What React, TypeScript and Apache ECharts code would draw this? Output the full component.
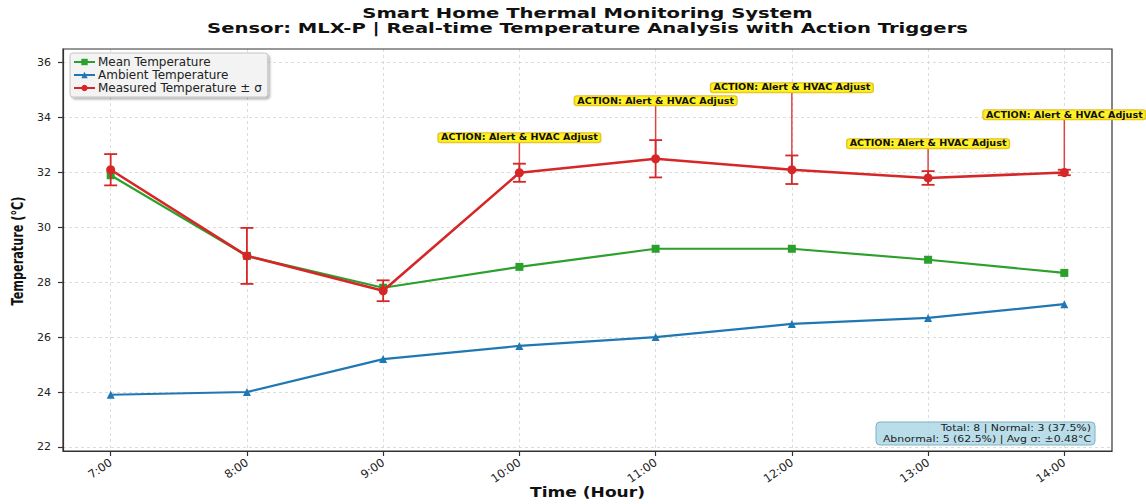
import React, { useEffect, useRef } from "react";
import * as echarts from "echarts";

const hours = ["7:00", "8:00", "9:00", "10:00", "11:00", "12:00", "13:00", "14:00"];
const meanTemp = [31.9, 28.96, 27.8, 28.56, 29.22, 29.22, 28.82, 28.34];
const ambientTemp = [23.9, 24.0, 25.2, 25.68, 26.0, 26.48, 26.7, 27.2];
const measuredTemp = [32.1, 28.96, 27.69, 31.99, 32.5, 32.1, 31.8, 32.0];
const sigma = [0.57, 1.02, 0.38, 0.33, 0.68, 0.52, 0.25, 0.1];
const actionFlags = [false, false, false, true, true, true, true, true];
const actionLabelTemp = [0, 0, 0, 33.27, 34.61, 35.09, 33.05, 34.1];
const actionText = "ACTION: Alert & HVAC Adjust";
const yTicks = [22, 24, 26, 28, 30, 32, 34, 36];
const titleLines = [
  "Smart Home Thermal Monitoring System",
  "Sensor: MLX-P | Real-time Temperature Analysis with Action Triggers",
];
const statsLines = ["Total: 8 | Normal: 3 (37.5%)", "Abnormal: 5 (62.5%) | Avg σ: ±0.48°C"];

const RED = "#d62728";
const GREEN = "#2ca02c";
const BLUE = "#1f77b4";
const FONT = "DejaVu Sans";

export default function App() {
  const ref = useRef<HTMLDivElement>(null);
  useEffect(() => {
    if (!ref.current) return;
    const chart = echarts.init(ref.current, null, { renderer: "svg" });
    const idx = hours.map((_, i) => i);
    const option: any = {
      animation: false,
      backgroundColor: "#ffffff",
      legend: {
        data: ["Mean Temperature", "Ambient Temperature", "Measured Temperature ± σ"],
        orient: "vertical",
        left: 70,
        top: 53,
        padding: [3, 6, 3, 3],
        itemWidth: 21,
        itemHeight: 8,
        itemGap: 1,
        backgroundColor: "rgba(244,244,244,0.95)",
        borderColor: "#c4c4c4",
        borderWidth: 1,
        borderRadius: 3,
        shadowBlur: 2,
        shadowOffsetX: 2,
        shadowOffsetY: 2,
        shadowColor: "rgba(0,0,0,0.3)",
        textStyle: { fontFamily: FONT, fontSize: 12, color: "#222", lineHeight: 12, padding: [0, 0, 0, -2] },
      },
      grid: { left: 63, right: 34, top: 49, bottom: 53, show: false },
      xAxis: {
        type: "value",
        min: -0.35,
        max: 7.35,
        axisLine: { show: true, onZero: false, lineStyle: { color: "#333", width: 1.2 } },
        axisTick: { show: true, length: 5, customValues: idx, lineStyle: { color: "#333", width: 1.2 } },
        axisLabel: {
          customValues: idx,
          formatter: (v: number) => hours[Math.round(v)] ?? "",
          rotate: 35,
          margin: 10,
          fontFamily: FONT,
          fontSize: 11.5,
          color: "#222",
        },
        splitLine: { show: true, lineStyle: { color: "#d4d4d4", type: [3, 3], width: 0.8 } },
      },
      yAxis: {
        type: "value",
        min: 21.85,
        max: 36.5,
        axisLine: { show: true, onZero: false, lineStyle: { color: "#333", width: 1.2 } },
        axisTick: { show: true, length: 5, customValues: yTicks, lineStyle: { color: "#333", width: 1.2 } },
        axisLabel: { customValues: yTicks, margin: 12, fontFamily: FONT, fontSize: 11, color: "#222" },
        splitLine: { show: true, lineStyle: { color: "#d4d4d4", type: [3, 3], width: 0.8 } },
      },
      graphic: [
        {
          type: "rect",
          shape: { x: 63, y: 49, width: 1049, height: 402 },
          style: { fill: "none", stroke: "#333", lineWidth: 1.2 },
          silent: true,
          z: 1,
        },
        {
          type: "text",
          x: 587.5,
          y: 13,
          scaleX: 1.4,
          style: { text: titleLines[0], font: `bold 14px "${FONT}"`, fill: "#111", align: "center", verticalAlign: "middle", lineHeight: 14 },
        },
        {
          type: "text",
          x: 587.5,
          y: 28,
          scaleX: 1.4,
          style: { text: titleLines[1], font: `bold 14px "${FONT}"`, fill: "#111", align: "center", verticalAlign: "middle", lineHeight: 14 },
        },
        {
          type: "text",
          x: 587.5,
          y: 493,
          scaleX: 1.22,
          style: { text: "Time (Hour)", font: `bold 14px "${FONT}"`, fill: "#111", align: "center", verticalAlign: "middle" },
        },
        {
          type: "text",
          x: 18,
          y: 251,
          rotation: Math.PI / 2,
          scaleX: 0.75,
          style: { text: "Temperature (°C)", font: `bold 15px "${FONT}"`, fill: "#111", align: "center", verticalAlign: "middle" },
        },
        {
          type: "rect",
          z: 100,
          shape: { x: 876, y: 422, width: 219, height: 23, r: 4 },
          style: { fill: "rgba(173,216,230,0.85)", stroke: "#7fb0c4", lineWidth: 1 },
        },
        {
          type: "text",
          z: 101,
          x: 1091,
          y: 428,
          scaleX: 1.15,
          style: { text: statsLines[0], font: `9.5px "${FONT}"`, fill: "#222", align: "right", verticalAlign: "middle" },
        },
        {
          type: "text",
          z: 101,
          x: 1091,
          y: 438.5,
          scaleX: 1.15,
          style: { text: statsLines[1], font: `9.5px "${FONT}"`, fill: "#222", align: "right", verticalAlign: "middle" },
        },
      ],
      series: [
        {
          name: "Mean Temperature",
          type: "line",
          data: meanTemp.map((v, i) => [i, v]),
          symbol: "rect",
          symbolSize: 8,
          lineStyle: { color: GREEN, width: 2.2 },
          itemStyle: { color: GREEN },
          z: 3,
        },
        {
          name: "Ambient Temperature",
          type: "line",
          data: ambientTemp.map((v, i) => [i, v]),
          symbol: "triangle",
          symbolSize: 8,
          lineStyle: { color: BLUE, width: 2.2 },
          itemStyle: { color: BLUE },
          z: 3,
        },
        {
          name: "errorbars",
          type: "custom",
          data: measuredTemp.map((v, i) => [i, v, sigma[i]]),
          encode: { x: 0, y: 1 },
          z: 4,
          renderItem: (params: any, api: any) => {
            const x = api.value(0);
            const y = api.value(1);
            const s = api.value(2);
            const top = api.coord([x, y + s]);
            const bot = api.coord([x, y - s]);
            const cap = 6.5;
            const st = { stroke: RED, lineWidth: 1.8 };
            return {
              type: "group",
              children: [
                { type: "line", shape: { x1: top[0], y1: top[1], x2: bot[0], y2: bot[1] }, style: st },
                { type: "line", shape: { x1: top[0] - cap, y1: top[1], x2: top[0] + cap, y2: top[1] }, style: st },
                { type: "line", shape: { x1: bot[0] - cap, y1: bot[1], x2: bot[0] + cap, y2: bot[1] }, style: st },
              ],
            };
          },
        },
        {
          name: "actions",
          type: "custom",
          clip: false,
          data: measuredTemp
            .map((v, i) => [i, v, actionLabelTemp[i]])
            .filter((_, i) => actionFlags[i]),
          encode: { x: 0, y: 1 },
          z: 6,
          renderItem: (params: any, api: any) => {
            const x = api.value(0);
            const y = api.value(1);
            const ly = api.value(2);
            const p = api.coord([x, y]);
            const l = api.coord([x, ly]);
            return {
              type: "group",
              children: [
                {
                  type: "line",
                  shape: { x1: l[0], y1: l[1] + 5, x2: p[0], y2: p[1] - 3 },
                  style: { stroke: "rgba(214,39,40,0.85)", lineWidth: 1.5 },
                },
                {
                  type: "text",
                  x: l[0],
                  y: l[1],
                  scaleX: 1.2,
                  style: {
                    text: actionText,
                    font: `bold 8px "${FONT}"`,
                    fill: "#111",
                    align: "center",
                    verticalAlign: "middle",
                    lineHeight: 8,
                    backgroundColor: "rgba(255,240,0,0.85)",
                    borderColor: "#e0c030",
                    borderWidth: 1,
                    borderRadius: 2,
                    padding: [1, 2, 0, 2],
                  },
                },
              ],
            };
          },
        },
        {
          name: "Measured Temperature ± σ",
          type: "line",
          data: measuredTemp.map((v, i) => [i, v]),
          symbol: "circle",
          symbolSize: 9,
          lineStyle: { color: RED, width: 2.6 },
          itemStyle: { color: RED },
          z: 5,
        },
      ],
    };
    chart.setOption(option);
    return () => chart.dispose();
  }, []);
  return <div ref={ref} style={{ position: "fixed", left: 0, top: 0, width: 1146, height: 504 }} />;
}
